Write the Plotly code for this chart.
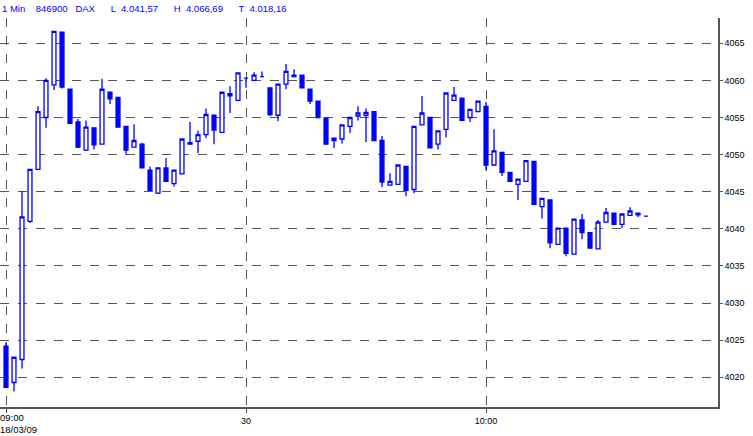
import plotly.graph_objects as go

# minutes after 09:00, one candle per minute
minute = list(range(81))
opens = [4024.2, 4019.3, 4022.4, 4041.0, 4048.0, 4055.0, 4059.4, 4066.5, 4058.8, 4054.4,
         4050.6, 4053.6, 4051.4, 4058.4, 4057.7, 4053.8, 4051.0, 4051.4, 4047.9, 4044.8,
         4048.2, 4046.1, 4047.4, 4051.6, 4051.8, 4052.7, 4055.3, 4053.0, 4057.9, 4057.3,
         4060.3, 4060.0, 4060.5, 4059.0, 4055.3, 4059.5, 4060.7, 4060.7, 4058.8, 4057.2,
         4054.9, 4051.9, 4052.1, 4053.8, 4055.2, 4055.3, 4055.8, 4051.9, 4045.9, 4046.0,
         4048.4, 4045.3, 4054.0, 4055.0, 4051.4, 4053.4, 4057.3, 4057.6, 4055.0, 4055.8,
         4056.5, 4048.6, 4050.3, 4047.6, 4046.0, 4046.4, 4049.1, 4043.0, 4043.9, 4037.9,
         4040.1, 4036.6, 4041.2, 4039.5, 4037.3, 4040.9, 4042.1, 4040.6, 4041.8, 4042.1,
         4041.7]
highs = [4024.7, 4022.7, 4045.1, 4048.0, 4056.5, 4060.3, 4066.6, 4066.5, 4058.8, 4054.8,
         4054.6, 4053.6, 4060.2, 4058.4, 4057.7, 4053.8, 4054.1, 4051.6, 4048.4, 4048.2,
         4049.5, 4047.9, 4052.2, 4054.4, 4053.2, 4056.2, 4055.3, 4058.4, 4059.2, 4061.0,
         4060.3, 4061.1, 4061.2, 4059.0, 4059.5, 4062.2, 4061.5, 4060.7, 4058.8, 4057.2,
         4054.9, 4052.2, 4054.0, 4055.0, 4056.5, 4056.2, 4055.8, 4052.5, 4047.5, 4048.6,
         4048.4, 4053.8, 4057.9, 4055.0, 4053.2, 4058.3, 4059.1, 4057.6, 4056.1, 4057.2,
         4057.1, 4053.4, 4050.3, 4047.6, 4046.7, 4049.2, 4049.1, 4044.1, 4043.9, 4040.1,
         4040.1, 4041.3, 4042.0, 4039.5, 4041.2, 4042.8, 4042.1, 4042.0, 4042.9, 4042.1,
         4041.8]
lows = [4018.6, 4018.1, 4021.2, 4040.8, 4048.0, 4053.6, 4058.7, 4058.9, 4054.2, 4050.9,
        4050.5, 4050.7, 4051.4, 4056.8, 4053.7, 4050.0, 4051.0, 4048.2, 4045.2, 4044.7,
        4046.4, 4045.7, 4047.4, 4051.4, 4050.2, 4052.2, 4051.4, 4053.0, 4055.6, 4057.3,
        4059.0, 4060.0, 4060.5, 4055.2, 4054.5, 4058.8, 4060.5, 4059.0, 4056.8, 4055.0,
        4051.4, 4050.9, 4051.5, 4052.9, 4054.6, 4051.7, 4051.9, 4045.6, 4045.9, 4046.0,
        4044.4, 4044.8, 4054.0, 4050.9, 4050.7, 4052.3, 4057.3, 4054.6, 4054.4, 4055.8,
        4047.9, 4048.6, 4047.1, 4046.3, 4043.9, 4046.4, 4043.3, 4041.4, 4037.4, 4037.9,
        4036.3, 4036.6, 4038.6, 4037.4, 4037.3, 4040.9, 4040.6, 4040.1, 4041.8, 4041.6,
        4041.6]
closes = [4018.65, 4022.7, 4041.6, 4048.0, 4055.8, 4060.0, 4066.6, 4059.1, 4054.2, 4051.0,
          4053.7, 4051.3, 4058.8, 4057.5, 4053.7, 4050.6, 4051.9, 4048.2, 4045.2, 4048.2,
          4046.4, 4047.9, 4052.1, 4051.4, 4052.7, 4055.4, 4053.3, 4058.4, 4058.2, 4061.0,
          4060.3, 4060.7, 4060.5, 4055.4, 4059.5, 4061.2, 4060.5, 4059.0, 4057.2, 4055.0,
          4051.4, 4052.2, 4054.0, 4055.0, 4055.6, 4055.7, 4051.9, 4046.3, 4046.4, 4048.6,
          4045.2, 4053.8, 4055.6, 4050.9, 4053.2, 4058.3, 4058.0, 4054.6, 4056.1, 4057.2,
          4048.6, 4050.5, 4047.6, 4046.4, 4046.7, 4049.2, 4043.3, 4044.1, 4038.1, 4040.1,
          4036.7, 4041.3, 4039.5, 4037.4, 4040.9, 4042.2, 4040.6, 4042.0, 4042.4, 4041.9,
          4041.7]

y_ticks = [4020, 4025, 4030, 4035, 4040, 4045, 4050, 4055, 4060, 4065]
x_ticks = [0, 30, 60]
x_labels = ["", "30", "10:00"]

blue = "#0000FF"
grid = "#555555"
fig = go.Figure()
fig.add_trace(go.Candlestick(
    x=minute, open=opens, high=highs, low=lows, close=closes,
    increasing=dict(line=dict(color=blue, width=1.3), fillcolor="white"),
    decreasing=dict(line=dict(color=blue, width=1.3), fillcolor=blue),
    whiskerwidth=0, showlegend=False))

fig.update_layout(
    width=753, height=436, margin=dict(l=0, r=35, t=18, b=29, autoexpand=False),
    paper_bgcolor="white", plot_bgcolor="white",
    font=dict(family="Liberation Sans, Arial", size=9, color="black"),
    xaxis=dict(range=[-0.75, 89], tickvals=x_ticks, ticktext=x_labels,
               rangeslider=dict(visible=False), showgrid=True, griddash="dash",
               gridcolor=grid, gridwidth=1, showline=True, linecolor=grid,
               linewidth=1.5, ticks="outside", ticklen=4, tickcolor=grid,
               zeroline=False, automargin=False),
    yaxis=dict(range=[4016.0, 4068.4], side="right", tickvals=y_ticks,
               showgrid=True, griddash="dash", gridcolor=grid, gridwidth=1,
               showline=True, linecolor=grid, linewidth=1.5,
               ticks="outside", ticklen=3, tickcolor=grid, zeroline=False,
               automargin=False))

fig.add_annotation(x=0, y=1, xref="paper", yref="paper", xanchor="left", yanchor="bottom",
                   yshift=2, showarrow=False, font=dict(color=blue, size=9.5),
                   text="1 Min    846900   DAX      L  4.041,57      H  4.066,69      T  4.018,16")
fig.add_annotation(x=0, y=0, xref="paper", yref="paper", xanchor="left", yanchor="top",
                   yshift=-3, xshift=-2, showarrow=False, font=dict(size=9.5),
                   text="09:00")
fig.add_annotation(x=0, y=0, xref="paper", yref="paper", xanchor="left", yanchor="top",
                   yshift=-15, xshift=-2, showarrow=False, font=dict(size=9.5),
                   text="18/03/09")
# page body has a default margin, drop it so the chart fills the window
fig.write_html("out.html", config={"displayModeBar": False},
               post_script="document.body.style.margin='0';")
